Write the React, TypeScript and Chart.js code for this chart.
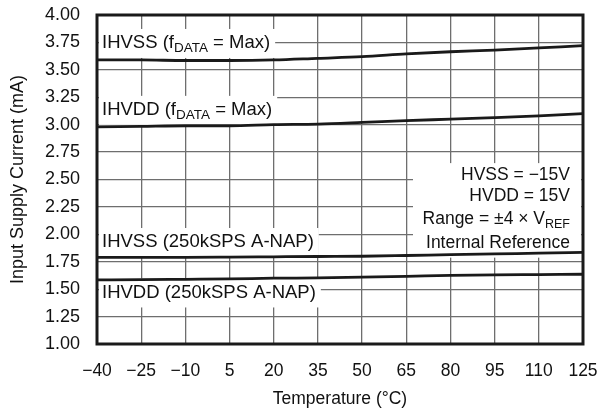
import React, { useEffect, useRef } from "react";
import { Chart, registerables } from "chart.js";

Chart.register(...registerables);

const temperatures = [-40, -25, -10, 5, 20, 35, 50, 65, 80, 95, 110, 125];
const ihvssMax = [3.59, 3.59, 3.585, 3.585, 3.59, 3.605, 3.62, 3.645, 3.665, 3.68, 3.7, 3.72];
const ihvddMax = [2.98, 2.985, 2.99, 2.99, 3.0, 3.005, 3.02, 3.037, 3.05, 3.064, 3.08, 3.1];
const ihvssNap = [1.79, 1.79, 1.79, 1.792, 1.795, 1.798, 1.8, 1.807, 1.815, 1.822, 1.828, 1.835];
const ihvddNap = [1.585, 1.587, 1.59, 1.593, 1.6, 1.603, 1.61, 1.617, 1.625, 1.63, 1.633, 1.636];

const xTicks = [-40, -25, -10, 5, 20, 35, 50, 65, 80, 95, 110, 125];
const yTicks = [1.0, 1.25, 1.5, 1.75, 2.0, 2.25, 2.5, 2.75, 3.0, 3.25, 3.5, 3.75, 4.0];

type Part = { t: string; sub?: boolean };
const seriesLabels: Part[][] = [
  [{ t: "IHVSS (f" }, { t: "DATA", sub: true }, { t: " = Max)" }],
  [{ t: "IHVDD (f" }, { t: "DATA", sub: true }, { t: " = Max)" }],
  [{ t: "IHVSS (250kSPS A-NAP)" }],
  [{ t: "IHVDD (250kSPS A-NAP)" }],
];
const conditionLines: Part[][] = [
  [{ t: "HVSS = \u221215V" }],
  [{ t: "HVDD = 15V" }],
  [{ t: "Range = \u00b14 \u00d7 V" }, { t: "REF", sub: true }],
  [{ t: "Internal Reference" }],
];

const FONT = "'Liberation Sans', Arial, Helvetica, sans-serif";

function fmtNum(v: number, digits: number) {
  const s = Math.abs(v).toFixed(digits);
  return v < 0 ? "\u2212" + s : s;
}

function richWidth(ctx: CanvasRenderingContext2D, parts: Part[], main: number, sub: number) {
  let w = 0;
  for (const p of parts) {
    ctx.font = `${p.sub ? sub : main}px ${FONT}`;
    w += ctx.measureText(p.t).width;
  }
  return w;
}

function drawRich(
  ctx: CanvasRenderingContext2D,
  parts: Part[],
  x: number,
  y: number,
  main: number,
  sub: number,
  align: "left" | "right"
) {
  const w = richWidth(ctx, parts, main, sub);
  let cx = align === "right" ? x - w : x;
  ctx.textAlign = "left";
  ctx.textBaseline = "middle";
  ctx.fillStyle = "#111";
  for (const p of parts) {
    ctx.font = `${p.sub ? sub : main}px ${FONT}`;
    ctx.fillText(p.t, cx, p.sub ? y + 5 : y);
    cx += ctx.measureText(p.t).width;
  }
  return w;
}

// text centre (in data units) for each series label, placed near the left edge
const labelCenters = [3.745, 3.135, 1.93, 1.47];
const conditionCenters = [2.54, 2.345, 2.135, 1.915];

const annotationPlugin = {
  id: "annotations",
  beforeDatasetsDraw(chart: any) {
    const { ctx, chartArea, scales } = chart;
    const ys = scales.y;
    ctx.save();
    seriesLabels.forEach((parts, i) => {
      const cy = ys.getPixelForValue(labelCenters[i]);
      const tx = chartArea.left + 5;
      const w = richWidth(ctx, parts, 18.5, 13.5);
      ctx.fillStyle = "#fff";
      ctx.fillRect(chartArea.left + 2, cy - 14, w + 8, 29);
      drawRich(ctx, parts, tx, cy, 18.5, 13.5, "left");
    });
    const right = chartArea.right - 13;
    const lineYs = conditionCenters.map((v) => ys.getPixelForValue(v));
    ctx.fillStyle = "#fff";
    ctx.fillRect(chartArea.left + 316, lineYs[0] - 12, chartArea.right - chartArea.left - 318, lineYs[3] - lineYs[0] + 26);
    conditionLines.forEach((parts, i) => {
      drawRich(ctx, parts, right, lineYs[i], 17.5, 12.5, "right");
    });
    ctx.restore();
  },
  afterDatasetsDraw(chart: any) {
    const { ctx, chartArea } = chart;
    ctx.save();
    ctx.strokeStyle = "#1a1a1a";
    ctx.lineWidth = 3;
    ctx.strokeRect(chartArea.left, chartArea.top, chartArea.right - chartArea.left, chartArea.bottom - chartArea.top);
    ctx.restore();
  },
};

export default function App() {
  const ref = useRef<HTMLCanvasElement | null>(null);
  useEffect(() => {
    document.body.style.margin = "0";
    if (!ref.current) return;
    const mk = (d: number[]) => temperatures.map((t, i) => ({ x: t, y: d[i] }));
    const lineStyle = {
      borderColor: "#1a1a1a",
      borderWidth: 2.8,
      pointRadius: 0,
      fill: false,
      cubicInterpolationMode: "monotone" as const,
    };
    const chart = new Chart(ref.current, {
      type: "line",
      data: {
        datasets: [
          { label: "IHVSS Max", data: mk(ihvssMax), ...lineStyle },
          { label: "IHVDD Max", data: mk(ihvddMax), ...lineStyle },
          { label: "IHVSS NAP", data: mk(ihvssNap), ...lineStyle },
          { label: "IHVDD NAP", data: mk(ihvddNap), ...lineStyle },
        ],
      },
      options: {
        responsive: false,
        animation: false,
        layout: { padding: { left: 0, right: 15, top: 15, bottom: 0 } },
        plugins: { legend: { display: false }, tooltip: { enabled: false } },
        scales: {
          x: {
            type: "linear",
            min: -40,
            max: 125,
            afterBuildTicks: (s: any) => {
              s.ticks = xTicks.map((v) => ({ value: v }));
            },
            afterFit: (s: any) => {
              s.height = 69;
              s.paddingLeft = 0;
              s.paddingRight = 0;
            },
            grid: { color: "#6e6e6e", lineWidth: 1.3, drawTicks: false },
            border: { display: false },
            ticks: {
              padding: 17,
              color: "#111",
              font: { family: FONT, size: 17.5 },
              maxRotation: 0,
              autoSkip: false,
              callback: (v: any) => fmtNum(Number(v), 0),
            },
            title: {
              display: true,
              text: "Temperature (\u00b0C)",
              color: "#111",
              font: { family: FONT, size: 17.5 },
              padding: { top: 0, bottom: 3 },
            },
          },
          y: {
            type: "linear",
            min: 1,
            max: 4,
            afterBuildTicks: (s: any) => {
              s.ticks = yTicks.map((v) => ({ value: v }));
            },
            afterFit: (s: any) => {
              s.width = 97;
              s.paddingTop = 0;
              s.paddingBottom = 0;
            },
            grid: { color: "#6e6e6e", lineWidth: 1.3, drawTicks: false },
            border: { display: false },
            ticks: {
              padding: 17,
              color: "#111",
              font: { family: FONT, size: 18 },
              autoSkip: false,
              callback: (v: any) => fmtNum(Number(v), 2),
            },
            title: {
              display: true,
              text: "Input Supply Current (mA)",
              color: "#111",
              font: { family: FONT, size: 18 },
              padding: { top: 7, bottom: 0 },
            },
          },
        },
      },
      plugins: [annotationPlugin],
    });
    return () => chart.destroy();
  }, []);
  return <canvas ref={ref} width={598} height={413} style={{ display: "block" }} />;
}
